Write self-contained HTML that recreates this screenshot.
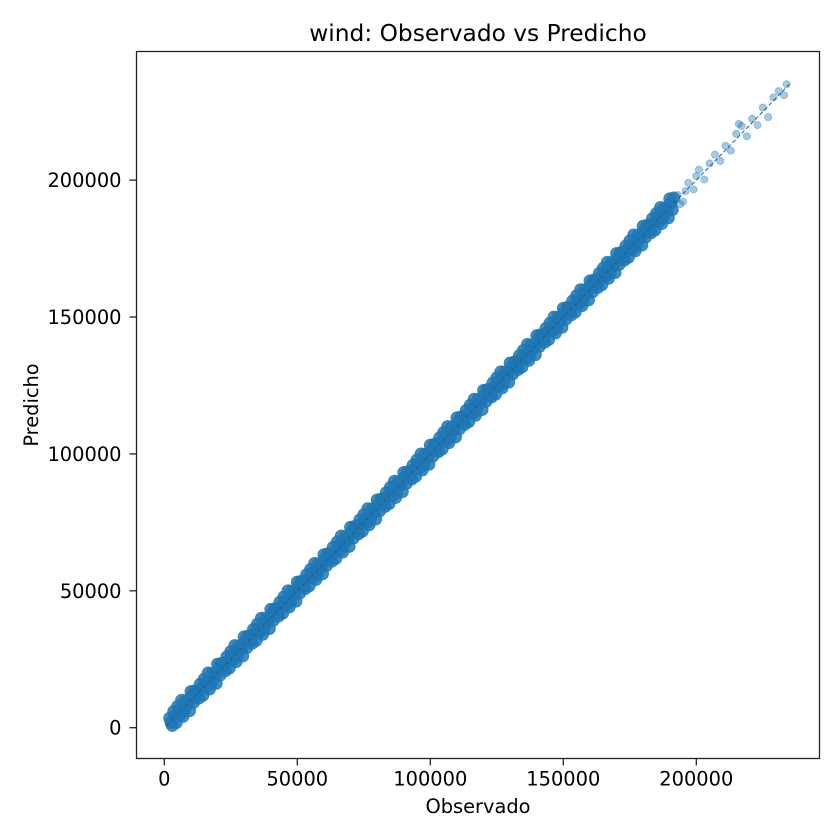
<!DOCTYPE html>
<html><head><meta charset="utf-8"><style>
html,body{margin:0;padding:0;background:#fff;}
svg{display:block;font-family:"DejaVu Sans","Liberation Sans",sans-serif;}
</style></head><body>
<svg id="chart" width="840" height="840" viewBox="0 0 840 840">
<rect width="840" height="840" fill="#fff"/>
<text x="478" y="41" font-size="23.3" text-anchor="middle" fill="#000">wind: Observado vs Predicho</text>
<g id="points"></g>
<g id="axes"></g>
<text x="478" y="813" font-size="19.4" text-anchor="middle">Observado</text>
<text x="0" y="0" font-size="19.4" text-anchor="middle" transform="translate(38,405) rotate(-90)">Predicho</text>
</svg>
<script>
const UNIT = 1000;
const xTicks = [0, 50000, 100000, 150000, 200000];
const yTicks = [0, 50000, 100000, 150000, 200000];
const xTickLabels = ["0", "50000", "100000", "150000", "200000"];
const yTickLabels = ["0", "50000", "100000", "150000", "200000"];
const observed1 = [2,3,4,5,6,7,8,9,10,11,12,13,14,15,16,17,18,19,20,21,22,23,24,25,26,27,28,29,30,31,32,33,34,35,36,37,38,39,40,41,42,43,44,45,46,47,48,49,50,51,52,53,54,55,56,57,58,59,60,61,62,63,64,65,66,67,68,69,70,71,72,73,74,75,76,77,78,79,80,81,82,83,84,85,86,87,88,89,90,91,92,93,94,95,96,97,98,99,100,101,102,103,104,105,106,107,108,109,110,111,112,113,114,115,116,117,118,119,120,121,122,123,124,125,126,127,128,129,130,131,132,133,134,135,136,137,138,139,140,141,142,143,144,145,146,147,148,149,150,151,152,153,154,155,156,157,158,159,160,161,162,163,164,165,166,167,168,169,170,171,172,173,174,175,176,177,178,179,180,181,182,183,184,185,186,187,188,189,190,191];
const predicted1 = [3.5,0.8,4.4,7.8,4.9,4.1,9.9,8.7,13.2,9.2,
13.5,10.8,14.4,17.8,14.9,14.1,19.9,18.7,23.2,19.2,
23.5,20.8,24.4,27.8,24.9,24.1,29.9,28.7,33.2,29.2,
33.5,30.8,34.4,37.8,34.9,34.1,39.9,38.7,43.2,39.2,
43.5,40.8,44.4,47.8,44.9,44.1,49.9,48.7,53.2,49.2,
53.5,50.8,54.4,57.8,54.9,54.1,59.9,58.7,63.2,59.2,
63.5,60.8,64.4,67.8,64.9,64.1,69.9,68.7,73.2,69.2,
73.5,70.8,74.4,77.8,74.9,74.1,79.9,78.7,83.2,79.2,
83.5,80.8,84.4,87.8,84.9,84.1,89.9,88.7,93.2,89.2,
93.5,90.8,94.4,97.8,94.9,94.1,99.9,98.7,103.2,99.2,
103.5,100.8,104.4,107.8,104.9,104.1,109.9,108.7,113.2,109.2,
113.5,110.8,114.4,117.8,114.9,114.1,119.9,118.7,123.2,119.2,
123.5,120.8,124.4,127.8,124.9,124.1,129.9,128.7,133.2,129.2,
133.5,130.8,134.4,137.8,134.9,134.1,139.9,138.7,143.2,139.2,
143.5,140.8,144.4,147.8,144.9,144.1,149.9,148.7,153.2,149.2,
153.5,150.8,154.4,157.8,154.9,154.1,159.9,158.7,163.2,159.2,
163.5,160.8,164.4,167.8,164.9,164.1,169.9,168.7,173.2,169.2,
173.5,170.8,174.4,177.8,174.9,174.1,179.9,178.7,183.2,179.2,
183.5,180.8,184.4,187.8,184.9,184.1,189.9,188.7,193.2,189.2];
const observed2 = [2.5,3.5,4.5,5.5,6.5,7.5,8.5,9.5,10.5,11.5,12.5,13.5,14.5,15.5,16.5,17.5,18.5,19.5,20.5,21.5,22.5,23.5,24.5,25.5,26.5,27.5,28.5,29.5,30.5,31.5,32.5,33.5,34.5,35.5,36.5,37.5,38.5,39.5,40.5,41.5,42.5,43.5,44.5,45.5,46.5,47.5,48.5,49.5,50.5,51.5,52.5,53.5,54.5,55.5,56.5,57.5,58.5,59.5,60.5,61.5,62.5,63.5,64.5,65.5,66.5,67.5,68.5,69.5,70.5,71.5,72.5,73.5,74.5,75.5,76.5,77.5,78.5,79.5,80.5,81.5,82.5,83.5,84.5,85.5,86.5,87.5,88.5,89.5,90.5,91.5,92.5,93.5,94.5,95.5,96.5,97.5,98.5,99.5,100.5,101.5,102.5,103.5,104.5,105.5,106.5,107.5,108.5,109.5,110.5,111.5,112.5,113.5,114.5,115.5,116.5,117.5,118.5,119.5,120.5,121.5,122.5,123.5,124.5,125.5,126.5,127.5,128.5,129.5,130.5,131.5,132.5,133.5,134.5,135.5,136.5,137.5,138.5,139.5,140.5,141.5,142.5,143.5,144.5,145.5,146.5,147.5,148.5,149.5,150.5,151.5,152.5,153.5,154.5,155.5,156.5,157.5,158.5,159.5,160.5,161.5,162.5,163.5,164.5,165.5,166.5,167.5,168.5,169.5,170.5,171.5,172.5,173.5,174.5,175.5,176.5,177.5,178.5,179.5,180.5,181.5,182.5,183.5,184.5,185.5,186.5,187.5,188.5,189.5,190.5,191.5];
const predicted2 = [1.9,5.9,1.8,6.4,10.0,6.1,8.7,6.2,11.7,13.5,
11.9,15.9,11.8,16.4,20.0,16.1,18.7,16.2,21.7,23.5,
21.9,25.9,21.8,26.4,30.0,26.1,28.7,26.2,31.7,33.5,
31.9,35.9,31.8,36.4,40.0,36.1,38.7,36.2,41.7,43.5,
41.9,45.9,41.8,46.4,50.0,46.1,48.7,46.2,51.7,53.5,
51.9,55.9,51.8,56.4,60.0,56.1,58.7,56.2,61.7,63.5,
61.9,65.9,61.8,66.4,70.0,66.1,68.7,66.2,71.7,73.5,
71.9,75.9,71.8,76.4,80.0,76.1,78.7,76.2,81.7,83.5,
81.9,85.9,81.8,86.4,90.0,86.1,88.7,86.2,91.7,93.5,
91.9,95.9,91.8,96.4,100.0,96.1,98.7,96.2,101.7,103.5,
101.9,105.9,101.8,106.4,110.0,106.1,108.7,106.2,111.7,113.5,
111.9,115.9,111.8,116.4,120.0,116.1,118.7,116.2,121.7,123.5,
121.9,125.9,121.8,126.4,130.0,126.1,128.7,126.2,131.7,133.5,
131.9,135.9,131.8,136.4,140.0,136.1,138.7,136.2,141.7,143.5,
141.9,145.9,141.8,146.4,150.0,146.1,148.7,146.2,151.7,153.5,
151.9,155.9,151.8,156.4,160.0,156.1,158.7,156.2,161.7,163.5,
161.9,165.9,161.8,166.4,170.0,166.1,168.7,166.2,171.7,173.5,
171.9,175.9,171.8,176.4,180.0,176.1,178.7,176.2,181.7,183.5,
181.9,185.9,181.8,186.4,190.0,186.1,188.7,186.2,191.7,193.5];
const observedTail = [193,194,195,196,197,199,200,201,203,205,207,209,211,213,215,216,217,219,221,223,225,227,229,231,233,234];
const predictedTail = [194.5,191.2,192.1,196.0,199.0,196.6,201.5,203.8,200.2,206.1,209.3,207.0,212.5,210.8,216.9,220.5,219.8,216.0,222.4,220.1,226.5,223.0,230.2,232.5,231.0,235.0];

const NS = "http://www.w3.org/2000/svg";
const PL = 136.5, PR = 819.5, PT = 51.5, PB = 758.5;
const X0 = 164.3, XS = 133 / 50000;
const Y0 = 727.7, YS = 136.9 / 50000;
function xScale(v) { return X0 + v * XS; }
function yScale(v) { return Y0 - v * YS; }

const pts = document.getElementById("points");
function addPoint(o, p, r, op) {
  const c = document.createElementNS(NS, "circle");
  c.setAttribute("cx", xScale(o * UNIT));
  c.setAttribute("cy", yScale(p * UNIT));
  c.setAttribute("r", r);
  c.setAttribute("fill", "#1f77b4");
  c.setAttribute("fill-opacity", op);
  c.setAttribute("stroke", "#1f77b4");
  c.setAttribute("stroke-opacity", op);
  c.setAttribute("stroke-width", "0.8");
  
  
  pts.appendChild(c);
}
const obsBand = observed1.concat(observed2);
const predBand = predicted1.concat(predicted2);
for (let i = 0; i < obsBand.length; i++) addPoint(obsBand[i], predBand[i], 6, 0.85);
for (let i = 0; i < observedTail.length; i++) addPoint(observedTail[i], predictedTail[i], 3.6, 0.4);

const obsAll = obsBand.concat(observedTail);
const predAll = predBand.concat(predictedTail);
const mn = Math.min(Math.min(...obsAll), Math.min(...predAll)) * UNIT;
const mx = Math.max(Math.max(...obsAll), Math.max(...predAll)) * UNIT;
const ln = document.createElementNS(NS, "line");
ln.setAttribute("x1", xScale(mn)); ln.setAttribute("y1", yScale(mn));
ln.setAttribute("x2", xScale(mx)); ln.setAttribute("y2", yScale(mx));
ln.setAttribute("stroke", "#1a5f8f");
ln.setAttribute("stroke-width", "1");
ln.setAttribute("stroke-dasharray", "4,2.5");


pts.appendChild(ln);

const ax = document.getElementById("axes");
const frame = document.createElementNS(NS, "rect");
frame.setAttribute("x", PL); frame.setAttribute("y", PT);
frame.setAttribute("width", PR - PL); frame.setAttribute("height", PB - PT);
frame.setAttribute("fill", "none"); frame.setAttribute("stroke", "#222"); frame.setAttribute("stroke-width", "1.3");


ax.appendChild(frame);
xTicks.forEach((t, i) => {
  const x = xScale(t);
  const tk = document.createElementNS(NS, "line");
  tk.setAttribute("x1", x); tk.setAttribute("x2", x);
  tk.setAttribute("y1", PB); tk.setAttribute("y2", PB + 7);
  tk.setAttribute("stroke", "#222"); tk.setAttribute("stroke-width", "1.3");
  
  
  ax.appendChild(tk);
  const tx = document.createElementNS(NS, "text");
  tx.setAttribute("x", x); tx.setAttribute("y", PB + 27);
  tx.setAttribute("font-size", "19.4"); tx.setAttribute("text-anchor", "middle");
  tx.textContent = xTickLabels[i];
  
  
  ax.appendChild(tx);
});
yTicks.forEach((t, i) => {
  const y = yScale(t);
  const tk = document.createElementNS(NS, "line");
  tk.setAttribute("x1", PL - 7); tk.setAttribute("x2", PL);
  tk.setAttribute("y1", y); tk.setAttribute("y2", y);
  tk.setAttribute("stroke", "#222"); tk.setAttribute("stroke-width", "1.3");
  
  
  ax.appendChild(tk);
  const tx = document.createElementNS(NS, "text");
  tx.setAttribute("x", PL - 15); tx.setAttribute("y", y + 7);
  tx.setAttribute("font-size", "19.4"); tx.setAttribute("text-anchor", "end");
  tx.textContent = yTickLabels[i];
  
  
  ax.appendChild(tx);
});
</script>
</body></html>
